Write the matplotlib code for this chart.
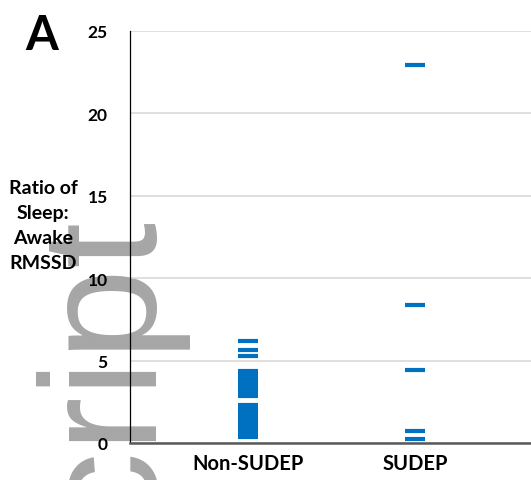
import numpy as np
import matplotlib.pyplot as plt

plt.rcParams['font.family'] = ['Lato', 'DejaVu Sans']

groups = ['Non-SUDEP', 'SUDEP']
non_sudep = [0.36, 0.45, 0.58, 0.70, 0.82, 0.95, 1.10, 1.22, 1.35, 1.50, 1.62,
             1.78, 1.90, 2.05, 2.18, 2.31,
             2.85, 2.98, 3.12, 3.25, 3.40, 3.55, 3.70, 3.82, 3.96, 4.10, 4.22, 4.36,
             5.30, 5.65, 6.20]
sudep = [0.24, 0.71, 4.45, 8.4, 22.95]
yticks = [0, 5, 10, 15, 20, 25]

fig = plt.figure(figsize=(5.31, 4.81), dpi=100)
ax = fig.add_axes([130/531, 37/481, 401/531, 412/481])
ax.patch.set_alpha(0)

blue = '#0070C0'
for i, vals in enumerate([non_sudep, sudep]):
    ax.plot([i + 1] * len(vals), vals, linestyle='none', marker='_',
            markersize=14, markeredgewidth=3.0, color=blue, zorder=3)

ax.set_xlim(0.293, 2.694)
ax.set_ylim(0, 25)
ax.set_yticks(yticks)
ax.set_xticks([1, 2])
ax.set_xticklabels(groups, fontsize=14.5, fontweight='bold')
ax.set_yticklabels([str(t) for t in yticks], fontsize=12.5, fontweight='bold')
ax.tick_params(axis='both', length=0)
ax.tick_params(axis='y', pad=16)
ax.tick_params(axis='x', pad=7)
ax.grid(axis='y', color='#D9D9D9', linewidth=1.2, zorder=0)
ax.set_axisbelow(True)
for s in ['top', 'right']:
    ax.spines[s].set_visible(False)
ax.spines['left'].set_color('black')
ax.spines['left'].set_linewidth(0.9)
ax.spines['bottom'].set_color('#595959')
ax.spines['bottom'].set_linewidth(1.8)

fig.text(43/531, 1 - 226/481, 'Ratio of\nSleep:\nAwake\nRMSSD', ha='center', va='center',
         fontsize=14, fontweight='bold', linespacing=1.55, zorder=5)
fig.text(25/531, 1 - 50/481, 'A', ha='left', va='baseline', fontsize=34, fontweight='bold')

# watermark, behind the axes
fig.text(157/531, 1 - 222/481, 'Author Manuscript', rotation=90, rotation_mode='anchor',
         ha='right', va='baseline', fontsize=119, color='#A6A6A6',
         family='Liberation Sans', zorder=-1)

fig.savefig('out.png', dpi=100)
